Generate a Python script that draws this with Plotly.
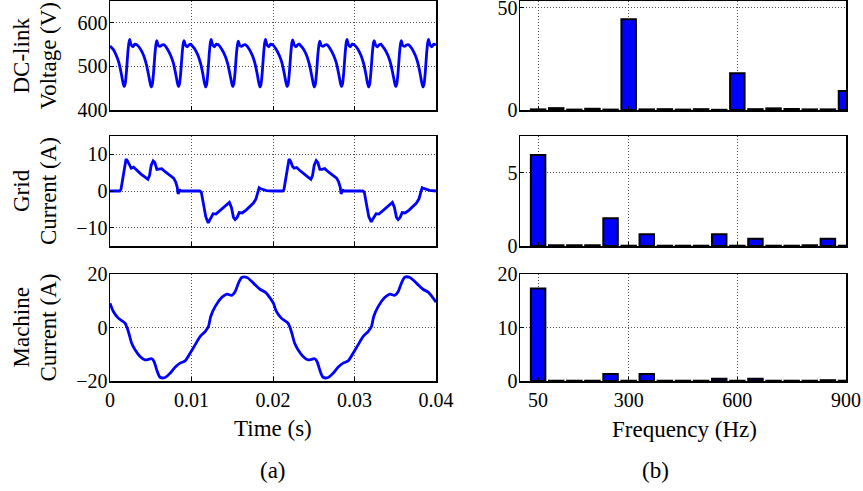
import plotly.graph_objects as go
from plotly.subplots import make_subplots

# ---------------- time-domain data ----------------
dc_t_ms = [
    0.00, 0.40, 0.80, 1.10, 1.40, 1.58, 1.72, 1.86, 2.02, 2.18, 2.32, 2.42, 2.58, 2.80, 3.05, 3.25,
    3.33, 3.73, 4.13, 4.43, 4.73, 4.91, 5.05, 5.19, 5.35, 5.51, 5.65, 5.75, 5.91, 6.13, 6.38, 6.58,
    6.67, 7.07, 7.47, 7.77, 8.07, 8.25, 8.39, 8.53, 8.69, 8.85, 8.99, 9.09, 9.25, 9.47, 9.72, 9.92,
    10.00, 10.40, 10.80, 11.10, 11.40, 11.58, 11.72, 11.86, 12.02, 12.18, 12.32, 12.42, 12.58, 12.80, 13.05, 13.25,
    13.33, 13.73, 14.13, 14.43, 14.73, 14.91, 15.05, 15.19, 15.35, 15.51, 15.65, 15.75, 15.91, 16.13, 16.38, 16.58,
    16.67, 17.07, 17.47, 17.77, 18.07, 18.25, 18.39, 18.53, 18.69, 18.85, 18.99, 19.09, 19.25, 19.47, 19.72, 19.92,
    20.00, 20.40, 20.80, 21.10, 21.40, 21.58, 21.72, 21.86, 22.02, 22.18, 22.32, 22.42, 22.58, 22.80, 23.05, 23.25,
    23.33, 23.73, 24.13, 24.43, 24.73, 24.91, 25.05, 25.19, 25.35, 25.51, 25.65, 25.75, 25.91, 26.13, 26.38, 26.58,
    26.67, 27.07, 27.47, 27.77, 28.07, 28.25, 28.39, 28.53, 28.69, 28.85, 28.99, 29.09, 29.25, 29.47, 29.72, 29.92,
    30.00, 30.40, 30.80, 31.10, 31.40, 31.58, 31.72, 31.86, 32.02, 32.18, 32.32, 32.42, 32.58, 32.80, 33.05, 33.25,
    33.33, 33.73, 34.13, 34.43, 34.73, 34.91, 35.05, 35.19, 35.35, 35.51, 35.65, 35.75, 35.91, 36.13, 36.38, 36.58,
    36.67, 37.07, 37.47, 37.77, 38.07, 38.25, 38.39, 38.53, 38.69, 38.85, 38.99, 39.09, 39.25, 39.47, 39.72, 39.92,
    40.00,
]
dc_v = [
    547, 539, 524, 508, 482, 464, 454, 460, 488, 530, 554, 562, 550, 545, 551, 550,
    549, 540, 525, 507, 481, 463, 453, 459, 487, 528, 552, 559, 548, 546, 549, 550,
    549, 539, 524, 508, 482, 464, 454, 460, 488, 529, 553, 559, 549, 545, 550, 551,
    549, 540, 525, 508, 482, 463, 453, 459, 488, 530, 555, 562, 550, 545, 551, 550,
    549, 539, 524, 507, 481, 464, 454, 460, 487, 528, 551, 558, 548, 546, 549, 550,
    549, 540, 525, 508, 482, 463, 453, 459, 488, 530, 555, 562, 550, 545, 551, 550,
    549, 539, 524, 508, 482, 464, 454, 460, 488, 529, 554, 561, 550, 545, 550, 551,
    549, 540, 525, 507, 481, 463, 453, 459, 487, 528, 551, 558, 548, 546, 549, 550,
    549, 539, 524, 508, 482, 464, 454, 460, 488, 530, 555, 562, 550, 545, 551, 550,
    549, 540, 525, 508, 482, 463, 453, 459, 488, 529, 553, 559, 549, 545, 550, 551,
    549, 539, 524, 507, 481, 464, 454, 460, 487, 528, 552, 559, 548, 546, 549, 550,
    549, 540, 525, 508, 482, 463, 453, 459, 488, 530, 555, 562, 550, 545, 551, 550,
    549,
]

grid_t_ms = [
    0.0, 1.2, 1.35, 1.6, 1.8, 1.97, 2.15, 2.4, 2.6, 2.9, 3.3, 3.8, 4.3, 4.65, 4.85, 5.05, 5.3, 5.5,
    5.75, 6.0, 6.35, 6.8, 7.3, 7.8, 8.05, 8.25, 8.35, 8.45, 8.6, 8.8, 11.0, 11.2, 11.45, 11.75,
    12.05, 12.3, 12.65, 13.0, 13.4, 13.9, 14.4, 14.65, 14.9, 15.15, 15.35, 15.6, 15.85, 16.2, 16.7,
    17.2, 17.6, 17.9, 18.1, 18.3, 18.5, 18.8, 19.2,
    20.0, 21.2, 21.35, 21.6, 21.8, 21.97, 22.15, 22.4, 22.6, 22.9, 23.3, 23.8, 24.3, 24.65, 24.85,
    25.05, 25.3, 25.5, 25.75, 26.0, 26.35, 26.8, 27.3, 27.8, 28.05, 28.25, 28.35, 28.45, 28.6, 28.8,
    31.0, 31.2, 31.45, 31.75, 32.05, 32.3, 32.65, 33.0, 33.4, 33.9, 34.4, 34.65, 34.9, 35.15, 35.35,
    35.6, 35.85, 36.2, 36.7, 37.2, 37.6, 37.9, 38.1, 38.3, 38.5, 38.8, 39.2, 40.0,
]
grid_i = [
    0.0, 0.0, 0.5, 4.0, 7.5, 8.7, 8.2, 6.8, 6.2, 6.5, 5.6, 4.6, 3.8, 3.2, 4.2, 7.0, 8.2, 7.8,
    5.9, 5.9, 6.1, 5.2, 4.4, 3.5, 2.5, 1.0, -0.8, -0.3, 0.2, 0.0, 0.0, -0.3, -3.5, -7.0,
    -8.7, -7.6, -6.2, -6.3, -5.5, -4.5, -3.6, -3.1, -4.5, -7.2, -7.8, -7.2, -5.9, -6.0, -5.2,
    -4.2, -3.3, -2.2, -0.5, 0.9, 0.6, 0.3, 0.1,
    0.0, 0.0, 0.5, 4.0, 7.6, 8.7, 8.2, 6.7, 6.2, 6.4, 5.6, 4.6, 3.8, 3.2, 4.2,
    7.0, 8.3, 7.8, 5.9, 5.9, 6.1, 5.2, 4.4, 3.5, 2.5, 1.0, -0.8, -0.3, 0.2, 0.0,
    0.0, -0.3, -3.5, -7.0, -8.4, -7.5, -6.2, -6.3, -5.5, -4.5, -3.6, -3.1, -4.5, -7.2, -7.8,
    -7.2, -5.9, -6.0, -5.2, -4.2, -3.3, -2.2, -0.5, 0.9, 0.7, 0.4, 0.2, 0.0,
]

mach_t_ms = [
    0.0, 0.41, 1.02, 1.84, 2.25, 2.66, 3.07, 3.69, 4.3, 5.12, 5.4, 5.73, 6.14, 6.76, 7.37, 7.98,
    8.6, 9.21, 9.83, 10.44, 11.05, 11.67, 12.08, 12.36, 12.9, 13.7, 14.33, 14.94, 15.35, 15.76,
    16.17, 16.8, 17.6, 18.4, 19.04, 19.65,
    20.06, 20.41, 21.02, 21.84, 22.25, 22.66, 23.07, 23.69, 24.3, 25.12, 25.4, 25.73, 26.14, 26.76,
    27.37, 27.98, 28.6, 29.21, 29.83, 30.44, 31.05, 31.67, 32.08, 32.36, 32.9, 33.7, 34.33, 34.94,
    35.35, 35.76, 36.17, 36.8, 37.6, 38.4, 39.04, 39.65, 40.0,
]
mach_i = [
    9.1, 6.0, 3.5, 1.6, -1.5, -5.9, -8.3, -10.8, -12.1, -11.7, -12.7, -15.8, -18.6, -18.7, -17.1, -14.9,
    -13.3, -12.5, -9.6, -6.5, -3.4, -1.5, 0.4, 4.1, 7.8, 11.2, 12.5, 12.0, 13.4, 16.6,
    18.7, 18.7, 16.6, 14.3, 13.2, 11.0,
    9.0, 6.0, 3.5, 1.6, -1.5, -5.9, -8.3, -10.8, -12.1, -11.7, -12.7, -15.8, -18.6, -18.7,
    -17.1, -14.9, -13.3, -12.5, -9.6, -6.5, -3.4, -1.5, 0.4, 4.1, 7.8, 11.2, 12.5, 12.0,
    13.4, 16.6, 18.8, 18.7, 16.6, 14.3, 13.2, 11.0, 9.5,
]

# ---------------- spectra ----------------
harm_hz = [50, 100, 150, 200, 250, 300, 350, 400, 450, 500, 550, 600, 650, 700, 750, 800, 850, 900]
dc_spec = [0.3, 0.9, 0.2, 0.6, 0.2, 44.5, 0.3, 0.4, 0.2, 0.4, 0.1, 18.0, 0.4, 0.8, 0.5, 0.3, 0.3, 9.3]
grid_spec = [6.2, 0.05, 0.05, 0.05, 1.9, 0.02, 0.8, 0.02, 0.02, 0.02, 0.8, 0.02, 0.5, 0.02, 0.02, 0.05, 0.5, 0.02]
mach_spec = [17.3, 0.05, 0.05, 0.05, 1.3, 0.05, 1.3, 0.05, 0.05, 0.05, 0.4, 0.05, 0.4, 0.05, 0.05, 0.05, 0.15, 0.05]

left_titles = [("DC-link", "Voltage (V)"), ("Grid", "Current (A)"), ("Machine", "Current (A)")]

FONT = "Liberation Serif"
BLUE = "#0000FF"
W, H = 863, 491

fig = make_subplots(rows=3, cols=2)

def sec(ms):
    return [v / 1000.0 for v in ms]

fig.add_trace(go.Scatter(x=sec(dc_t_ms), y=dc_v, mode="lines", line=dict(color=BLUE, width=2.8, shape="spline", smoothing=0.6)), row=1, col=1)
fig.add_trace(go.Scatter(x=sec(grid_t_ms), y=grid_i, mode="lines", line=dict(color=BLUE, width=2.8)), row=2, col=1)
fig.add_trace(go.Scatter(x=sec(mach_t_ms), y=mach_i, mode="lines", line=dict(color=BLUE, width=2.8, shape="spline", smoothing=0.8)), row=3, col=1)

for r, spec in zip([1, 2, 3], [dc_spec, grid_spec, mach_spec]):
    fig.add_trace(go.Bar(x=harm_hz, y=spec, marker=dict(color=BLUE, line=dict(color="black", width=2)), width=40), row=r, col=2)

axis_common = dict(
    showline=True, linecolor="black", linewidth=1.5, mirror=True,
    ticks="inside", ticklen=4, tickcolor="black", tickwidth=1,
    showgrid=True, gridcolor="#505050", griddash="1px,2px", gridwidth=1,
    zeroline=False, automargin=False, ticklabeloverflow="allow",
    tickfont=dict(family=FONT, size=20, color="black"),
)

xl = [110 / W, 436 / W]
xr = [520 / W, 846 / W]
ydom = [[1 - 110 / H, 1 - 1 / H], [1 - 246 / H, 1 - 136 / H], [1 - 381 / H, 1 - 274 / H]]

for i, name in enumerate(["xaxis", "xaxis3", "xaxis5"]):
    fig.layout[name].update(domain=xl, range=[0, 0.04], tickvals=[0, 0.01, 0.02, 0.03, 0.04],
                            ticktext=["0", "0.01", "0.02", "0.03", "0.04"], showticklabels=(i == 2), **axis_common)
for i, name in enumerate(["xaxis2", "xaxis4", "xaxis6"]):
    fig.layout[name].update(domain=xr, range=[0, 900], tickvals=[50, 300, 600, 900],
                            showticklabels=(i == 2), **axis_common)

ycommon = dict(axis_common, ticklabelstandoff=-3)
fig.layout["yaxis"].update(domain=ydom[0], range=[400, 650], tickvals=[400, 500, 600], **ycommon)
fig.layout["yaxis3"].update(domain=ydom[1], range=[-15, 15], tickvals=[-10, 0, 10], **ycommon)
fig.layout["yaxis5"].update(domain=ydom[2], range=[-20, 20], tickvals=[-20, 0, 20], **ycommon)
fig.layout["yaxis2"].update(domain=ydom[0], range=[0, 53.4], tickvals=[0, 50], **ycommon)
fig.layout["yaxis4"].update(domain=ydom[1], range=[0, 7.5], tickvals=[0, 5], **ycommon)
fig.layout["yaxis6"].update(domain=ydom[2], range=[0, 20], tickvals=[0, 10, 20], **ycommon)

ann = []
centers = [(1 + 110) / 2, (136 + 246) / 2, (274 + 381) / 2]
for (l1, l2), cy in zip(left_titles, centers):
    for txt, px in [(l1, 21), (l2, 48)]:
        ann.append(dict(text=txt, x=px / W, y=1 - cy / H, xref="paper", yref="paper",
                        textangle=-90, showarrow=False, xanchor="center", yanchor="middle",
                        font=dict(family=FONT, size=23, color="black")))
for txt, px, py in [("Time (s)", 273, 428), ("Frequency (Hz)", 684, 429), ("(a)", 273, 470), ("(b)", 655, 470)]:
    ann.append(dict(text=txt, x=px / W, y=1 - py / H, xref="paper", yref="paper",
                    showarrow=False, xanchor="center", yanchor="middle",
                    font=dict(family=FONT, size=23, color="black")))

fig.update_layout(
    width=W, height=H, margin=dict(l=0, r=0, t=0, b=0, pad=0),
    paper_bgcolor="white", plot_bgcolor="white", showlegend=False, hovermode=False,
    bargap=0.2, annotations=ann, font=dict(family=FONT, color="black"),
)

fig.write_html("out.html", config={"displayModeBar": False, "staticPlot": True},
               post_script="document.body.style.margin='0';")
